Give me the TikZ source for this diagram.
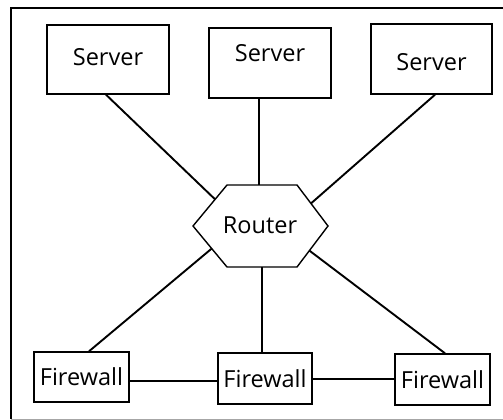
\documentclass[tikz,border=0pt]{standalone}
\usepackage{fontspec}
\setmainfont{Open Sans}
\usetikzlibrary{calc}
\begin{document}
\begin{tikzpicture}[x=1pt,y=-1pt,
  lbl/.style={font=\fontsize{23.5}{26}\selectfont},
  box/.style={draw,line width=1.4pt,inner sep=0pt,lbl},
  link/.style={line width=1.9pt}]
\useasboundingbox (0,0) rectangle (503,420);
% outer frame (right side runs off the page)
\draw[line width=2.2pt] (505,8) -- (11,8) -- (11,419);
\draw[gray!70,line width=1pt] (11,419) -- (505,419);

% servers
\node[box,minimum width=122pt,minimum height=69pt] (s1) at (108,59.5) {};
\node[lbl] (t1) at (108,57) {Server};
\node[box,minimum width=122pt,minimum height=70pt] (s2) at (270,63) {};
\node[lbl] (t2) at (270,53) {Server};
\node[box,minimum width=121pt,minimum height=70pt] (s3) at (431.5,59) {};
\node[lbl] (t3) at (431.5,62) {Server};

% router hexagon
\coordinate (rw) at (193,226);
\coordinate (rnw) at (227,185);
\coordinate (rne) at (297,185);
\coordinate (re) at (328,226);
\coordinate (rse) at (297,267);
\coordinate (rsw) at (227,267);
\draw[line width=1.4pt] (rw) -- (rnw) -- (rne) -- (re) -- (rse) -- (rsw) -- cycle;
\node[lbl] (r) at (260,225) {Router};

% firewalls
\node[box,minimum width=95pt,minimum height=50pt] (f1) at (81.5,377) {Firewall};
\node[box,minimum width=94pt,minimum height=51pt] (f2) at (265,378.5) {Firewall};
\node[box,minimum width=95pt,minimum height=51pt] (f3) at (442.5,379.5) {Firewall};

% connection points on the router outline
\coordinate (pa) at ($(rw)!0.65!(rnw)$);
\coordinate (pb) at (259,185);
\coordinate (pc) at ($(re)!0.55!(rne)$);
\coordinate (pd) at ($(rw)!0.55!(rsw)$);
\coordinate (pe) at (262,267);
\coordinate (pf) at ($(re)!0.6!(rse)$);

% links
\draw[link] (s1.south -| 106,0) -- (pa);
\draw[link] (s2.south -| pb) -- (pb);
\draw[link] (s3.south -| 435,0) -- (pc);
\draw[link] (pd) -- (f1.north -| 89,0);
\draw[link] (pe) -- (f2.north -| pe);
\draw[link] (pf) -- (f3.north -| 445,0);
\draw[link] (f1.east |- 0,381) -- (f2.west |- 0,381);
\draw[link] (f2.east |- 0,379) -- (f3.west |- 0,379);
\end{tikzpicture}
\end{document}
